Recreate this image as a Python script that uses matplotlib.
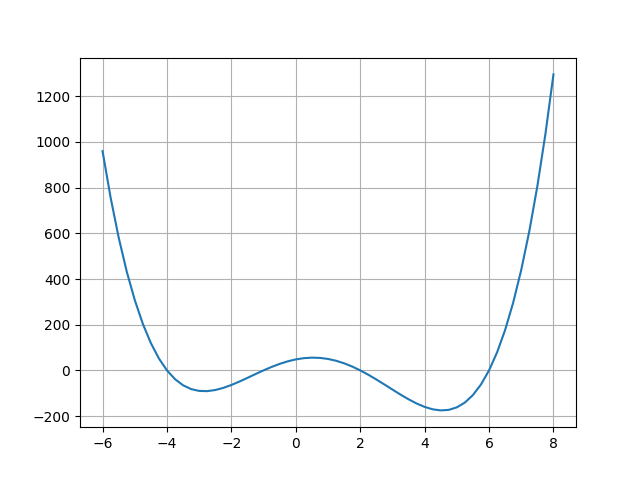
import matplotlib
matplotlib.use("Agg")
import matplotlib.pyplot as plt
import numpy as np

# curve values, x from -6 to 8 in steps of 0.25
y_values = [960.00, 756.96, 582.19, 433.30, 308.00, 204.08, 119.44, 52.05,
            0.00, -38.54, -65.31, -81.95, -90.00, -90.92, -86.06, -76.70,
            -64.00, -49.04, -32.81, -16.20, 0.00, 15.08, 28.44, 39.55,
            48.00, 53.46, 55.69, 54.55, 50.00, 42.08, 30.94, 16.80,
            0.00, -19.04, -39.81, -61.70, -84.00, -105.92, -126.56, -144.95,
            -160.00, -170.54, -175.31, -172.95, -162.00, -140.92, -108.06, -61.70,
            0.00, 78.96, 177.19, 296.80, 440.00, 609.08, 806.44, 1034.55,
            1296.00]
x_values = np.linspace(-6, 8, len(y_values))

fig, ax = plt.subplots(figsize=(6.4, 4.8), dpi=100)
ax.plot(x_values, y_values)
ax.grid(True)
fig.savefig("out.png")
